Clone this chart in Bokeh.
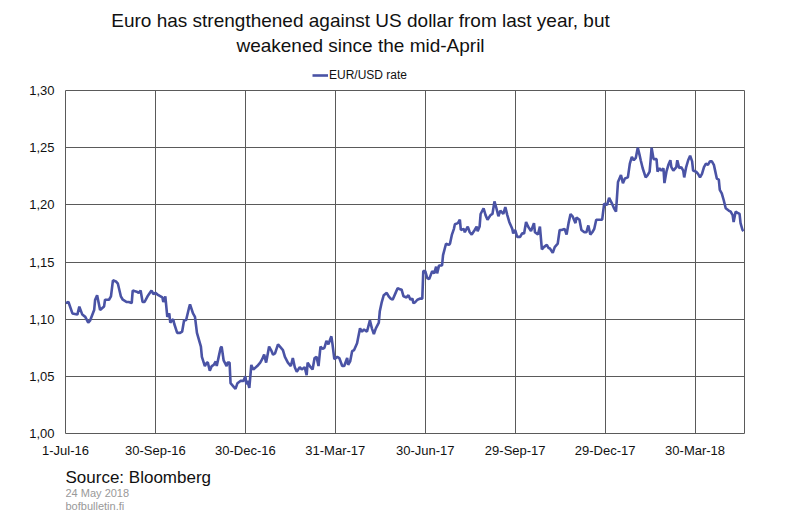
import pandas as pd
from bokeh.plotting import figure
from bokeh.layouts import column
from bokeh.models import (Range1d, FixedTicker, CustomJSTickFormatter, Label,
                          Legend, LegendItem)
from bokeh.embed import file_html
from bokeh.resources import INLINE

# ---- data -------------------------------------------------------------
start_date = "2016-07-01"
# observation day, counted in days after 1 July 2016
obs_day = [
    0, 3, 7, 12, 14, 17, 20, 23, 25, 29, 30, 32, 35, 39, 40, 44, 46, 48, 51, 53,
    56, 58, 62, 64, 67, 68, 72, 74, 76, 78, 80, 83, 87, 89, 91, 94, 98, 99, 101, 103,
    105, 106, 109, 110, 113, 116, 118, 120, 122, 125, 126, 129, 131, 133, 137, 138, 141, 143, 144, 146,
    148, 150, 152, 153, 155, 157, 158, 160, 163, 164, 166, 167, 170, 172, 174, 177, 180, 182, 183, 184,
    186, 188, 190, 194, 197, 199, 201, 203, 206, 208, 210, 212, 215, 217, 220, 222, 225, 228, 230, 232,
    234, 237, 239, 242, 244, 245, 248, 250, 252, 254, 256, 258, 260, 262, 264, 266, 269, 270, 272, 275,
    277, 280, 282, 285, 286, 288, 290, 292, 295, 298, 300, 302, 305, 308, 310, 312, 314, 317, 318, 320,
    322, 325, 327, 329, 331, 334, 336, 339, 340, 342, 345, 347, 349, 351, 352, 354, 356, 359, 361, 362,
    364, 366, 368, 371, 373, 375, 376, 378, 381, 382, 385, 388, 389, 391, 393, 394, 397, 399, 400, 403,
    404, 407, 409, 411, 414, 416, 417, 419, 420, 423, 425, 427, 430, 432, 434, 436, 438, 440, 443, 445,
    447, 449, 452, 453, 455, 457, 460, 462, 464, 466, 468, 471, 474, 475, 478, 480, 482, 484, 487, 489,
    490, 493, 495, 498, 500, 502, 505, 507, 509, 511, 513, 516, 517, 520, 522, 525, 527, 529, 531, 533,
    535, 537, 539, 543, 545, 548, 550, 553, 555, 557, 559, 562, 564, 566, 569, 571, 573, 575, 577, 579,
    581, 582, 584, 587, 589, 591, 592, 593, 595, 598, 599, 601, 603, 605, 606, 608, 610, 612, 613, 615,
    618, 619, 621, 623, 625, 626, 628, 630, 632, 634, 635, 638, 640, 642, 644, 646, 648, 650, 652, 654,
    656, 657, 659, 661, 662, 664, 666, 668, 671, 673, 675, 676, 678, 680, 682, 683, 685, 686,
]
eur_usd = [
    1.114, 1.115, 1.105, 1.104, 1.111, 1.104, 1.102, 1.097, 1.099, 1.108, 1.117, 1.121, 1.108, 1.111, 1.117, 1.117, 1.120, 1.134, 1.133, 1.131,
    1.120, 1.117, 1.115, 1.115, 1.114, 1.125, 1.124, 1.123, 1.125, 1.115, 1.115, 1.120, 1.125, 1.122, 1.123, 1.121, 1.119, 1.115, 1.120, 1.102,
    1.105, 1.097, 1.100, 1.096, 1.088, 1.088, 1.089, 1.099, 1.099, 1.110, 1.113, 1.105, 1.102, 1.088, 1.076, 1.067, 1.059, 1.062, 1.062, 1.055,
    1.059, 1.060, 1.063, 1.059, 1.067, 1.075, 1.076, 1.064, 1.059, 1.062, 1.062, 1.044, 1.041, 1.039, 1.044, 1.046, 1.046, 1.050, 1.043, 1.046,
    1.040, 1.060, 1.056, 1.059, 1.062, 1.065, 1.069, 1.062, 1.076, 1.073, 1.069, 1.070, 1.078, 1.076, 1.073, 1.067, 1.062, 1.059, 1.066, 1.058,
    1.054, 1.058, 1.056, 1.058, 1.051, 1.062, 1.058, 1.056, 1.066, 1.067, 1.059, 1.076, 1.074, 1.075, 1.081, 1.078, 1.085, 1.079, 1.065, 1.067,
    1.066, 1.059, 1.059, 1.066, 1.060, 1.063, 1.072, 1.073, 1.079, 1.092, 1.089, 1.091, 1.089, 1.099, 1.092, 1.087, 1.092, 1.097, 1.107, 1.115,
    1.121, 1.123, 1.120, 1.118, 1.117, 1.123, 1.127, 1.126, 1.126, 1.120, 1.119, 1.121, 1.117, 1.118, 1.114, 1.115, 1.117, 1.118, 1.118, 1.142,
    1.142, 1.136, 1.135, 1.142, 1.140, 1.146, 1.140, 1.147, 1.147, 1.156, 1.166, 1.165, 1.166, 1.174, 1.179, 1.183, 1.184, 1.187, 1.178, 1.179,
    1.176, 1.181, 1.176, 1.174, 1.178, 1.181, 1.177, 1.181, 1.192, 1.197, 1.191, 1.187, 1.191, 1.192, 1.203, 1.197, 1.190, 1.195, 1.192, 1.198,
    1.191, 1.185, 1.179, 1.175, 1.178, 1.172, 1.172, 1.175, 1.175, 1.185, 1.181, 1.177, 1.184, 1.176, 1.174, 1.181, 1.161, 1.163, 1.165, 1.162,
    1.162, 1.158, 1.163, 1.166, 1.178, 1.178, 1.179, 1.174, 1.184, 1.192, 1.190, 1.184, 1.189, 1.187, 1.178, 1.176, 1.176, 1.182, 1.174, 1.176,
    1.179, 1.187, 1.187, 1.187, 1.201, 1.200, 1.206, 1.201, 1.197, 1.194, 1.220, 1.226, 1.219, 1.223, 1.224, 1.236, 1.242, 1.239, 1.241, 1.250,
    1.243, 1.239, 1.232, 1.224, 1.226, 1.229, 1.239, 1.250, 1.240, 1.240, 1.229, 1.232, 1.230, 1.232, 1.219, 1.229, 1.235, 1.239, 1.233, 1.230,
    1.233, 1.239, 1.232, 1.233, 1.230, 1.224, 1.233, 1.239, 1.243, 1.238, 1.230, 1.229, 1.227, 1.224, 1.227, 1.233, 1.236, 1.235, 1.238, 1.238,
    1.235, 1.231, 1.223, 1.222, 1.213, 1.210, 1.204, 1.197, 1.195, 1.194, 1.191, 1.185, 1.194, 1.193, 1.192, 1.184, 1.178, 1.177,
]
last_day = 687  # 19 May 2018, end of the axis

x_tick_labels = ["1-Jul-16", "30-Sep-16", "30-Dec-16", "31-Mar-17",
                 "30-Jun-17", "29-Sep-17", "29-Dec-17", "30-Mar-18"]
y_ticks = [1.00, 1.05, 1.10, 1.15, 1.20, 1.25, 1.30]

title_lines = ["Euro has strengthened against US dollar from last year, but",
               "weakened since the mid-April"]
series_name = "EUR/USD rate"
source_text = "Source: Bloomberg"
date_text = "24 May 2018"
site_text = "bofbulletin.fi"

# ---- style / layout constants -------------------------------------------
FONT = "Liberation Sans"
LINE_COLOR = "#4A53A5"
LINE_WIDTH = 2.6
GRID_COLOR = "#5a5a5a"
TEXT_COLOR = "#111111"
NOTE_COLOR = "#999999"
W = 785
BORDER_L, BORDER_R = 65, 41          # plot frame spans x = 65 .. 744
HEAD_H, MAIN_H, FOOT_H = 82, 378, 55

t0 = pd.Timestamp(start_date)
x_tick_days = [int((pd.to_datetime(s, format="%d-%b-%y") - t0).days)
               for s in x_tick_labels]


def text_panel(height):
    # the column aligns this panel's frame with the chart frame, so the
    # x range is expressed in page pixels of that frame
    f = figure(width=W, height=height, output_backend="svg", toolbar_location=None,
               x_range=Range1d(BORDER_L, W - BORDER_R), y_range=Range1d(0, height),
               x_axis_type=None, y_axis_type=None, title=None, min_border=0,
               min_border_left=BORDER_L, min_border_right=BORDER_R)
    f.outline_line_color = None
    f.background_fill_color = "white"
    f.border_fill_color = "white"
    return f


def add_text(f, text, x, y, size, color=TEXT_COLOR, align="left"):
    f.add_layout(Label(x=x, y=y, text=text, text_align=align,
                       text_baseline="middle", text_font=FONT,
                       text_font_size=size, text_color=color))


# ---- header: title and legend -------------------------------------------
head = text_panel(HEAD_H)
add_text(head, title_lines[0], 360, 62, "19px", align="center")
add_text(head, title_lines[1], 360, 37.5, "19px", align="center")
# legend key: a line renderer with the series style and a single empty point
key = head.line(x=[float("nan")], y=[float("nan")],
                line_color=LINE_COLOR, line_width=LINE_WIDTH)
legend = Legend(items=[LegendItem(label=series_name, renderers=[key])],
                orientation="horizontal", location=(312 - BORDER_L, 0),
                glyph_width=16, glyph_height=12, label_height=12,
                label_standoff=1, padding=0, margin=0, spacing=0,
                label_text_font=FONT, label_text_font_size="12px",
                label_text_color=TEXT_COLOR,
                border_line_color=None, background_fill_alpha=0)
head.add_layout(legend, "center")

# ---- main chart -----------------------------------------------------------
p = figure(width=W, height=MAIN_H, output_backend="svg", toolbar_location=None,
           x_range=Range1d(0, last_day), y_range=Range1d(y_ticks[0], y_ticks[-1]),
           title=None, min_border_left=BORDER_L, min_border_right=BORDER_R,
           min_border_top=8, min_border_bottom=26)
p.background_fill_color = "white"
p.border_fill_color = "white"
p.outline_line_color = GRID_COLOR
p.outline_line_width = 1

p.line(obs_day, eur_usd, line_color=LINE_COLOR, line_width=LINE_WIDTH)

xa = p.xaxis[0]
xa.ticker = FixedTicker(ticks=x_tick_days)
xa.major_label_overrides = {d: s for d, s in zip(x_tick_days, x_tick_labels)}
ya = p.yaxis[0]
ya.ticker = FixedTicker(ticks=y_ticks)
ya.formatter = CustomJSTickFormatter(code="return tick.toFixed(2).replace('.', ',');")
for ax in (xa, ya):
    ax.axis_line_color = None
    ax.major_tick_line_color = None
    ax.minor_tick_line_color = None
    ax.major_tick_out = 0
    ax.major_tick_in = 0
    ax.major_label_text_font = FONT
    ax.major_label_text_font_size = "13px"
    ax.major_label_text_color = TEXT_COLOR
xa.major_label_standoff = 9
ya.major_label_standoff = 11

p.xgrid.ticker = FixedTicker(ticks=x_tick_days)
p.ygrid.ticker = FixedTicker(ticks=y_ticks)
for g in (p.xgrid, p.ygrid):
    g.grid_line_color = GRID_COLOR
    g.grid_line_width = 1
    g.grid_line_alpha = 1

# ---- footer ---------------------------------------------------------------
foot = text_panel(FOOT_H)
add_text(foot, source_text, BORDER_L, 38, "17px")
add_text(foot, date_text, BORDER_L, 22.5, "11px", color=NOTE_COLOR)
add_text(foot, site_text, BORDER_L, 10, "11px", color=NOTE_COLOR)

layout = column(head, p, foot, spacing=0)
open("out.html", "w").write(file_html(layout, INLINE))
